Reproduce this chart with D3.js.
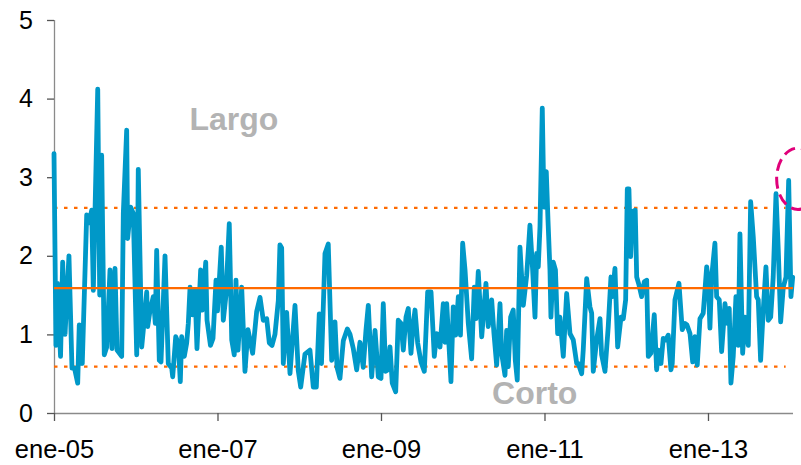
<!DOCTYPE html>
<html><head><meta charset="utf-8">
<script src="https://cdn.jsdelivr.net/npm/d3@7/dist/d3.min.js"></script>
<style>body{margin:0;background:#fff}svg{display:block}</style>
</head><body>
<svg id="chart" width="801" height="465"></svg>
<script>
// Decimal-year positions of the series vertices
const dates = [
2005.000,2005.024,2005.043,2005.080,2005.106,2005.135,2005.183,2005.220,2005.251,2005.290,
2005.309,2005.346,2005.400,2005.428,2005.461,2005.481,2005.502,2005.535,2005.559,2005.583,
2005.615,2005.645,2005.685,2005.709,2005.746,2005.771,2005.828,2005.848,2005.889,2005.901,
2005.938,2005.970,2006.012,2006.031,2006.073,2006.092,2006.134,2006.146,2006.174,2006.215,
2006.239,2006.256,2006.288,2006.309,2006.358,2006.398,2006.440,2006.452,2006.489,2006.520,
2006.545,2006.562,2006.594,2006.623,2006.643,2006.664,2006.697,2006.725,2006.749,2006.794,
2006.814,2006.856,2006.872,2006.914,2006.945,2006.982,2007.000,2007.046,2007.071,2007.104,
2007.144,2007.174,2007.205,2007.226,2007.251,2007.296,2007.336,2007.373,2007.430,2007.479,
2007.520,2007.560,2007.602,2007.634,2007.667,2007.703,2007.744,2007.764,2007.785,2007.805,
2007.846,2007.887,2007.948,2007.988,2008.018,2008.070,2008.131,2008.172,2008.209,2008.245,
2008.272,2008.315,2008.355,2008.397,2008.437,2008.462,2008.498,2008.539,2008.588,2008.621,
2008.661,2008.703,2008.743,2008.783,2008.816,2008.845,2008.886,2008.927,2008.967,2009.000,
2009.028,2009.057,2009.086,2009.110,2009.138,2009.180,2009.211,2009.245,2009.273,2009.306,
2009.334,2009.367,2009.391,2009.416,2009.449,2009.489,2009.530,2009.571,2009.612,2009.652,
2009.681,2009.722,2009.762,2009.783,2009.804,2009.856,2009.884,2009.914,2009.946,2009.972,
2009.999,2010.028,2010.068,2010.109,2010.141,2010.162,2010.190,2010.232,2010.284,2010.312,
2010.354,2010.382,2010.415,2010.456,2010.476,2010.517,2010.537,2010.557,2010.586,2010.618,
2010.643,2010.667,2010.700,2010.741,2010.782,2010.822,2010.855,2010.884,2010.904,2010.924,
2010.945,2010.973,2010.994,2011.022,2011.043,2011.067,2011.079,2011.107,2011.134,2011.161,
2011.189,2011.230,2011.271,2011.312,2011.352,2011.394,2011.413,2011.455,2011.474,2011.516,
2011.556,2011.577,2011.597,2011.638,2011.679,2011.699,2011.740,2011.780,2011.813,2011.829,
2011.862,2011.895,2011.936,2011.964,2011.993,2012.013,2012.033,2012.054,2012.074,2012.110,
2012.128,2012.156,2012.189,2012.221,2012.250,2012.270,2012.302,2012.343,2012.372,2012.392,
2012.425,2012.453,2012.482,2012.514,2012.547,2012.563,2012.596,2012.645,2012.685,2012.718,
2012.743,2012.780,2012.813,2012.841,2012.869,2012.902,2012.942,2012.984,2013.003,2013.024,
2013.045,2013.085,2013.106,2013.138,2013.167,2013.208,2013.236,2013.260,2013.281,2013.309,
2013.342,2013.370,2013.391,2013.424,2013.452,2013.493,2013.522,2013.554,2013.595,2013.615,
2013.644,2013.676,2013.709,2013.737,2013.767,2013.798,2013.832,2013.860,2013.889,2013.921,
2013.954,2013.987,2014.015,2014.036
];
const values = [
3.30,0.86,1.65,0.72,1.92,1.00,2.00,0.57,0.57,0.38,
1.12,0.63,2.52,2.42,2.58,1.56,2.58,4.12,1.50,3.28,
0.74,0.84,1.82,0.82,1.84,0.80,0.72,2.54,3.60,2.22,
2.62,2.54,0.74,3.10,0.84,1.05,1.54,1.10,1.30,1.48,
1.14,2.07,0.67,0.65,2.00,0.63,0.57,0.46,0.97,0.89,
0.40,0.97,0.72,0.89,1.14,1.60,1.25,1.57,0.82,1.82,
1.31,1.92,1.18,0.86,0.95,1.69,1.30,2.11,1.18,1.50,
2.41,0.93,0.74,1.69,0.80,1.60,0.53,1.06,0.76,1.29,
1.47,1.18,1.20,0.89,0.86,1.00,1.43,2.14,2.10,0.63,
1.28,0.50,1.37,0.54,0.33,0.75,0.80,0.33,0.33,1.26,
0.63,2.03,2.15,0.67,1.16,0.58,0.44,0.92,1.07,1.00,
0.82,0.55,0.90,0.58,1.05,1.37,0.46,1.05,0.46,0.44,
1.39,0.53,0.55,0.84,0.38,0.27,1.18,1.14,0.80,1.22,
1.33,0.76,1.10,1.31,0.89,0.65,0.53,1.54,1.54,0.72,
1.01,0.84,1.39,0.90,1.39,0.40,1.35,0.99,1.48,0.99,
2.16,1.82,1.14,0.69,1.60,1.20,1.80,0.97,1.65,1.10,
1.44,1.01,0.61,1.39,0.76,0.48,1.05,0.59,1.22,1.31,
0.67,0.42,2.11,1.37,1.75,2.39,1.82,1.22,2.03,1.86,
2.37,3.88,2.62,3.07,2.45,1.82,1.22,1.92,1.82,1.01,
1.22,0.72,1.52,1.01,0.93,0.63,0.63,0.50,0.80,1.71,
1.35,1.27,0.53,0.93,1.20,0.74,0.53,1.10,1.73,1.48,
1.84,0.84,1.22,1.20,1.44,2.85,2.85,1.99,2.56,2.58,
1.73,1.63,1.48,1.67,1.69,0.72,0.76,1.25,0.55,0.80,
0.63,0.95,0.93,0.99,0.55,0.63,1.44,1.65,1.06,1.14,
1.12,1.01,0.65,0.97,0.61,1.20,1.27,1.86,1.69,1.08,
1.73,2.16,1.48,1.44,0.78,1.39,1.14,1.33,0.38,0.72,
1.48,0.86,2.28,0.76,1.22,0.86,2.69,2.24,1.48,1.44,
0.67,1.31,1.86,1.18,1.22,1.73,2.79,2.07,1.16,1.60,
1.73,2.96,1.48,1.73
];
const yTicks = [0, 1, 2, 3, 4, 5];
const xTickYears = [2005, 2007, 2009, 2011, 2013];
const xTickLabels = ["ene-05", "ene-07", "ene-09", "ene-11", "ene-13"];
const meanLevel = 1.59;
const upperLevel = 2.61;
const lowerLevel = 0.59;
const bandLabels = ["Largo", "Corto"];
const bandLabelPos = [[2007.2, 3.6], [2010.88, 0.12]];
const highlight = {year: 2014.1, value: 2.98, ryValue: 0.39, rxYears: 0.26};

const svg = d3.select("#chart");
const x = d3.scaleLinear().domain([2005, 2014.04]).range([54, 793]);
const y = d3.scaleLinear().domain([0, 5]).range([413, 20]);
const font = "'Liberation Sans', Arial, sans-serif";

// Axes
const yAxis = svg.append("g").attr("transform", `translate(${x(2005)},0)`)
  .call(d3.axisLeft(y).tickValues(yTicks).tickSize(7).tickPadding(14).tickFormat(d3.format("d")));
const xAxis = svg.append("g").attr("transform", `translate(0,${y(0)})`)
  .call(d3.axisBottom(x).tickValues(xTickYears).tickSize(8).tickPadding(19)
        .tickFormat((d, i) => xTickLabels[i]));
[yAxis, xAxis].forEach(g => {
  g.select(".domain").attr("stroke", "#8a8a8a").attr("stroke-width", 1.3);
  g.selectAll(".tick line").attr("stroke", "#555").attr("stroke-width", 1.3);
  g.selectAll("text").attr("font-family", font).attr("fill", "#000");
});
yAxis.selectAll("text").attr("font-size", 25);
xAxis.selectAll("text").attr("font-size", 25.5);
xAxis.select(".domain").attr("d", `M${x(2005)},0.5H${x(2014.04)}`);
yAxis.select(".domain").attr("d", `M0.5,${y(5)}V${y(0)}`);

// Reference lines
[upperLevel, lowerLevel].forEach(v => {
  svg.append("line").attr("x1", x(2005)).attr("x2", x(2013.95))
    .attr("y1", y(v)).attr("y2", y(v))
    .attr("stroke", "#ff6a00").attr("stroke-width", 2.2).attr("stroke-dasharray", "3.5,6.5");
});

// Series
const pts = dates.map((d, i) => [d, values[i]]);
svg.append("path").datum(pts)
  .attr("fill", "none").attr("stroke", "#0098c8").attr("stroke-width", 4.8)
  .attr("stroke-linejoin", "round").attr("stroke-linecap", "round")
  .attr("d", d3.line().x(d => x(d[0])).y(d => y(d[1])));

// Mean line
svg.append("line").attr("x1", x(2005)).attr("x2", x(2014.04))
  .attr("y1", y(meanLevel)).attr("y2", y(meanLevel))
  .attr("stroke", "#ff6a00").attr("stroke-width", 2.2);

// Band labels
svg.selectAll("text.band").data(bandLabels).enter().append("text")
  .attr("class", "band")
  .attr("x", (d, i) => x(bandLabelPos[i][0])).attr("y", (d, i) => y(bandLabelPos[i][1]))
  .attr("text-anchor", "middle").attr("font-family", font).attr("font-weight", "bold")
  .attr("font-size", 32).attr("fill", "#b3b3b3").text(d => d);

// Highlight ellipse
const cx = x(highlight.year), cy = y(highlight.value);
svg.append("ellipse").attr("cx", cx).attr("cy", cy)
  .attr("rx", x(2005 + highlight.rxYears) - x(2005))
  .attr("ry", y(0) - y(highlight.ryValue))
  .attr("fill", "none").attr("stroke", "#e0007a").attr("stroke-width", 3)
  .attr("stroke-dasharray", "12,6");
</script>
</body></html>
